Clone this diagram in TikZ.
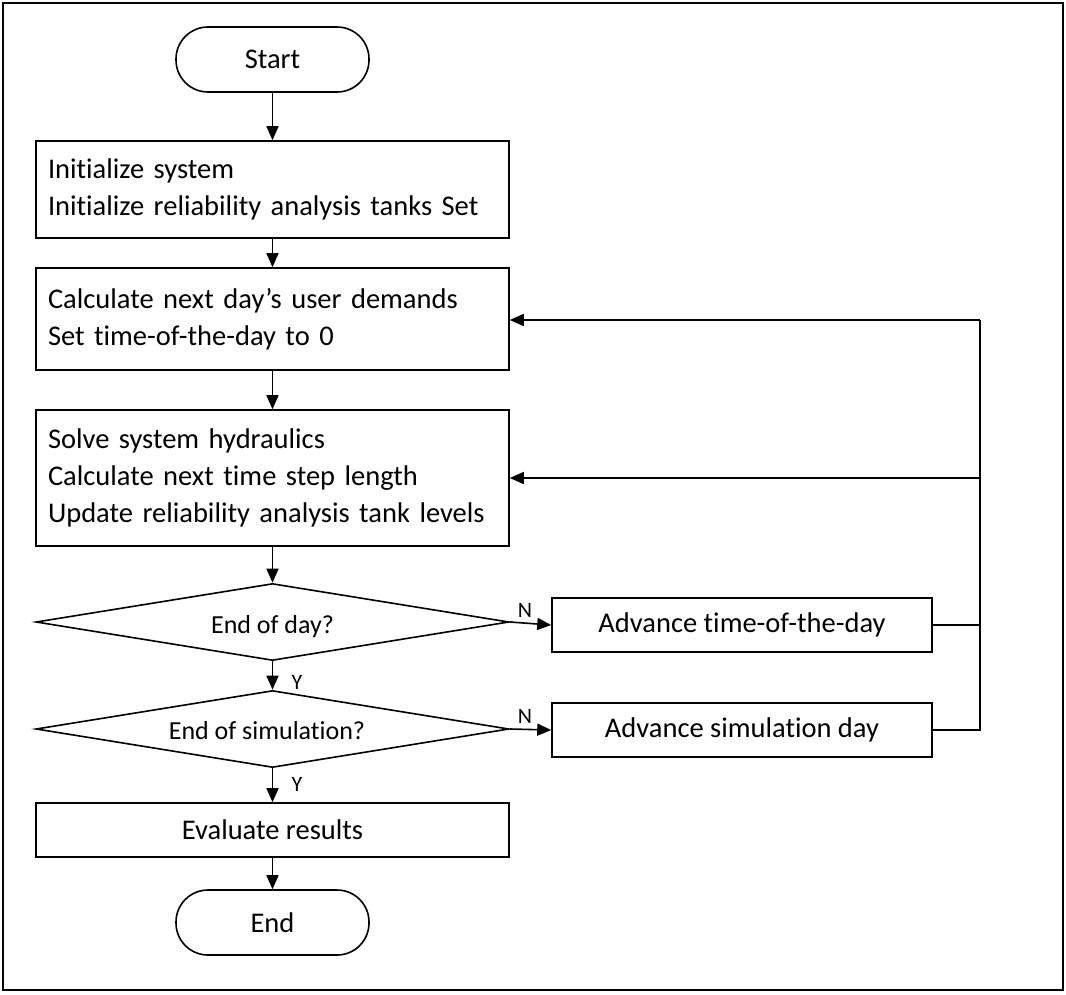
\documentclass[tikz,border=0pt]{standalone}
\usepackage{fontspec}
\setmainfont{Carlito}[Ligatures={NoCommon}]
\usetikzlibrary{shapes.geometric,arrows.meta}
\begin{document}
\begin{tikzpicture}[x=1pt,y=-1pt,
  every node/.style={font=\fontsize{28.5}{37}\selectfont},
  box/.style={draw,line width=1.6pt,rectangle,minimum width=473pt,text width=449pt,inner xsep=12pt,align=left},
  cbox/.style={draw,line width=1.6pt,rectangle,align=center},
  term/.style={draw,line width=1.6pt,rectangle,rounded corners=32pt,minimum width=193pt,minimum height=65pt},
  dec/.style={draw,line width=1.6pt,diamond,aspect=6.2,minimum width=473pt,minimum height=77pt,inner sep=0pt,font=\fontsize{26}{30}\selectfont},
  lab/.style={font=\fontsize{22}{26}\selectfont,inner sep=0pt},
  conn/.style={line width=1.6pt},
  arr/.style={conn,-{Triangle[length=14pt,width=12pt]}}
]
\useasboundingbox (0,0) rectangle (1066,994);
\draw[line width=1.8pt] (3,3) rectangle (1063,990);

\node[term] (start) at (272.5,59.5) {Start};
\node[box,minimum height=97pt] (b1) at (272.5,189.5) {Initialize system\\Initialize reliability analysis tanks Set};
\node[box,minimum height=102pt] (b2) at (272.5,319) {Calculate next day’s user demands\\Set time-of-the-day to 0};
\node[box,minimum height=136pt] (b3) at (272.5,478) {Solve system hydraulics\\Calculate next time step length\\Update reliability analysis tank levels};
\node[dec] (d1) at (272.5,622) {};
\node[dec] (d2) at (272.5,729) {};
\node[inner sep=0pt,font=\fontsize{26}{30}\selectfont] (t1) at (272.5,627) {End of day?};
\node[inner sep=0pt,font=\fontsize{26}{30}\selectfont] (t2) at (267,731) {End of simulation?};
\node[cbox,minimum width=380pt,minimum height=54pt] (a1) at (742,625) {Advance time-of-the-day};
\node[cbox,minimum width=380pt,minimum height=54pt] (a2) at (742,730) {Advance simulation day};
\node[cbox,minimum width=473pt,minimum height=54pt] (ev) at (272.5,830) {Evaluate results};
\node[term] (end) at (272.5,922.5) {End};

\coordinate (r2) at (980,320);
\coordinate (r3) at (980,478);

\draw[arr] (start) -- (b1);
\draw[arr] (b1) -- (b2);
\draw[arr] (b2) -- (b3);
\draw[arr] (b3) -- (d1);
\draw[arr] (d1) -- (d2);
\draw[arr] (d2) -- (ev);
\draw[arr] (ev) -- (end);
\draw[arr] (d1.east) -- (a1.west);
\draw[arr] (d2.east) -- (a2.west);
\draw[conn] (a1.east) -- (a1.east -| r2);
\draw[conn] (a2.east) -- (a2.east -| r2) -- (r2);
\draw[arr] (r2) -- (r2 -| b2.east);
\draw[arr] (r3) -- (r3 -| b3.east);

\node[lab] (n1) at (525,610) {N};
\node[lab] (n2) at (525,716) {N};
\node[lab] (y1) at (297,682) {Y};
\node[lab] (y2) at (297,784) {Y};
\end{tikzpicture}
\end{document}
